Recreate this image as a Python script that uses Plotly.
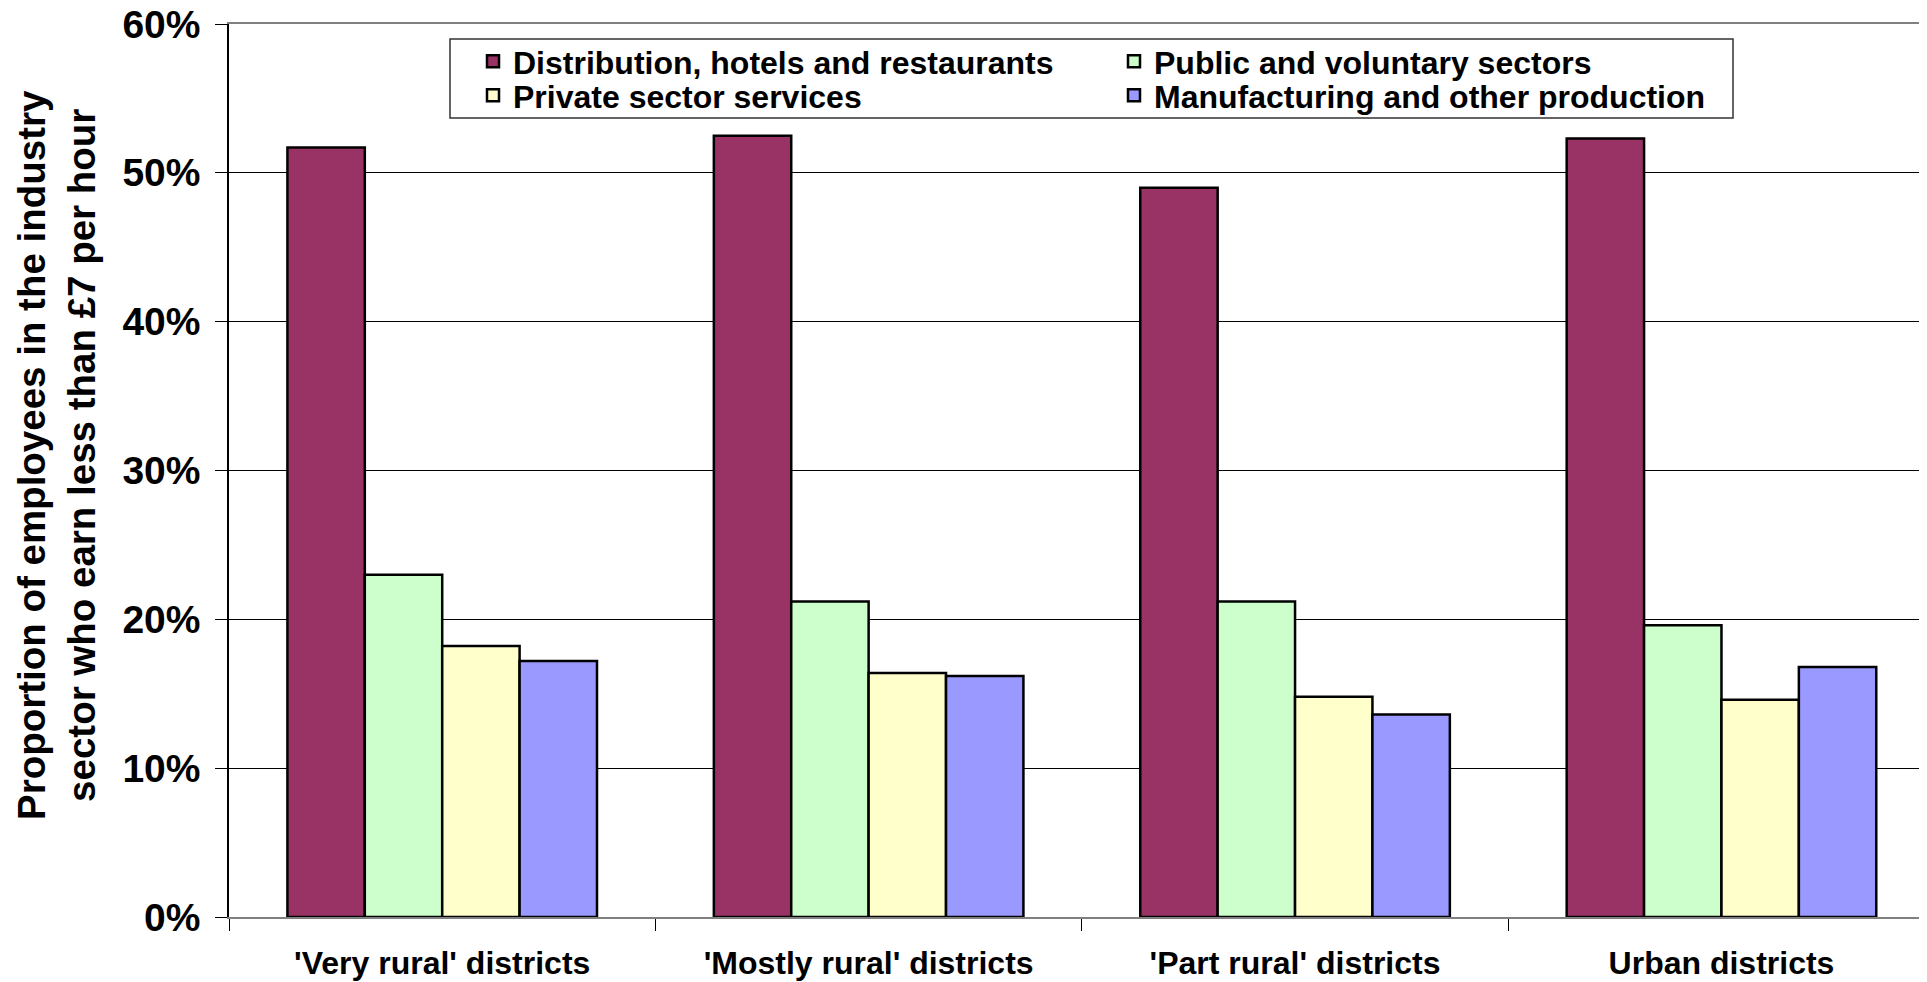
import plotly.graph_objects as go

categories = ["'Very rural' districts", "'Mostly rural' districts", "'Part rural' districts", "Urban districts"]
series_names = ["Distribution, hotels and restaurants", "Public and voluntary sectors",
                "Private sector services", "Manufacturing and other production"]
distribution = [0.517, 0.525, 0.490, 0.523]
public_voluntary = [0.230, 0.212, 0.212, 0.196]
private_services = [0.182, 0.164, 0.148, 0.146]
manufacturing = [0.172, 0.162, 0.136, 0.168]
y_ticks = [0, 0.1, 0.2, 0.3, 0.4, 0.5, 0.6]

colors = ["#993366", "#CCFFCC", "#FFFFCC", "#9999FF"]
values = [distribution, public_voluntary, private_services, manufacturing]
legend_ids = ["legend", "legend", "legend2", "legend2"]

FONT = "Liberation Sans, Arial, sans-serif"

fig = go.Figure()
for name, vals, col, lg in zip(series_names, values, colors, legend_ids):
    fig.add_trace(go.Bar(
        x=categories, y=vals, name=name, legend=lg,
        marker=dict(color=col, line=dict(color="black", width=2.5)),
    ))

# page body has an 8px default margin; figure sized so it ends at the window edge
OFF = 8
W, H = 1927 - OFF, 982 - OFF
L, R, T, B = 221, 0, 16, 65
pw = W - L - R
ph = H - T - B

def px_x(x):  # page x -> paper fraction
    return (x - OFF - L) / pw

def px_y(y):  # page y -> paper fraction
    return 1 - (y - OFF - T) / ph

legend_common = dict(
    orientation="h", xanchor="left", yanchor="top",
    bgcolor="rgba(0,0,0,0)", borderwidth=0,
    font=dict(family=FONT, size=32, color="black", weight="bold"),
    entrywidth=596, traceorder="normal",
)

fig.update_layout(
    width=W, height=H,
    margin=dict(l=L, r=R, t=T, b=B, autoexpand=False),
    paper_bgcolor="white", plot_bgcolor="white",
    barmode="group", bargap=0.274, bargroupgap=0,
    font=dict(family=FONT, color="black", weight="bold"),
    showlegend=True,
    legend=dict(x=px_x(473), y=px_y(34), **legend_common),
    legend2=dict(x=px_x(473), y=px_y(68), **legend_common),
    shapes=[dict(type="rect", xref="paper", yref="paper",
                 x0=px_x(450), x1=px_x(1733), y0=px_y(118), y1=px_y(39),
                 line=dict(color="#333333", width=1.5), fillcolor="white", layer="below")],
    annotations=[dict(
        text="Proportion of employees in the industry<br>sector who earn less than £7 per hour",
        xref="paper", yref="paper", x=px_x(56), y=px_y(455),
        xanchor="center", yanchor="middle", textangle=-90, showarrow=False,
        font=dict(family=FONT, size=38.5, color="black", weight="bold"),
    )],
)

fig.update_xaxes(
    range=[-0.5, 3.482], showgrid=False,
    showline=True, mirror=True, linecolor="#808080", linewidth=2,
    ticks="outside", tickson="boundaries", ticklen=12, tickcolor="black", tickwidth=1,
    tickfont=dict(family=FONT, size=32, color="black", weight="bold"),
    ticklabelstandoff=17, automargin=False,
)
fig.update_yaxes(
    range=[0, 0.6], tickvals=y_ticks, tickformat=".0%",
    showgrid=True, gridcolor="black", gridwidth=1,
    showline=True, linecolor="black", linewidth=1.5,
    ticks="outside", ticklen=12, tickcolor="black", tickwidth=1,
    tickfont=dict(family=FONT, size=39, color="black", weight="bold"),
    ticklabelstandoff=7, ticklabeloverflow="allow",
    automargin=False, zeroline=False,
)

fig.write_html("out.html")
